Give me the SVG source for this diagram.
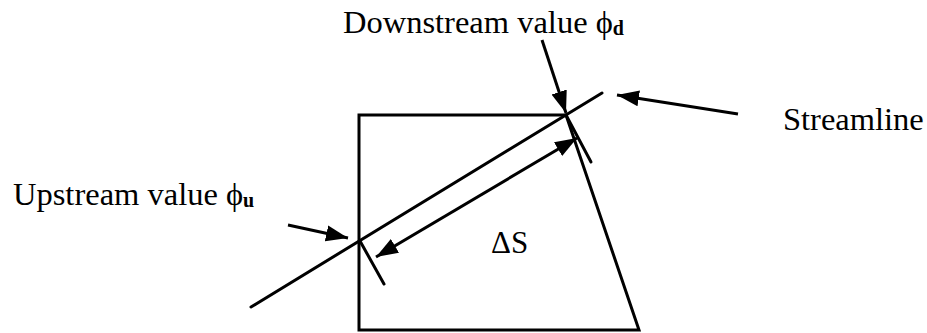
<svg xmlns="http://www.w3.org/2000/svg" width="927" height="333" viewBox="0 0 927 333">
<style>
.ln{stroke:#000;stroke-width:3;fill:none;stroke-linecap:round}
.ar{stroke:#000;stroke-width:3;fill:none;marker-end:url(#ah)}
.t{font-family:"Liberation Serif","Times New Roman",serif;font-size:32.5px;fill:#000}
.sub{font-size:20px;font-weight:bold}
</style>
<defs>
<marker id="ah" markerUnits="userSpaceOnUse" markerWidth="24" markerHeight="18" refX="22" refY="8" orient="auto-start-reverse" viewBox="0 0 24 16">
<path d="M0,0 L22,8 L0,16 Z" fill="#000"/>
</marker>
</defs>
<rect width="927" height="333" fill="#fff"/>
<g id="cell">
<path class="ln" d="M359,330 L359,115 L566,115 L639,330 Z"/>
</g>
<g id="streamline-line">
<line class="ln" x1="251" y1="307" x2="602" y2="93"/>
</g>
<g id="ticks">
<line class="ln" x1="360" y1="241" x2="384" y2="284"/>
<line class="ln" x1="566" y1="115" x2="591" y2="162"/>
</g>
<g id="connectors">
<line class="ar" x1="542" y1="40" x2="566" y2="113"/>
<line class="ar" x1="288" y1="225" x2="348" y2="238"/>
<line class="ar" x1="738" y1="114" x2="617" y2="95"/>
<line class="ar" x1="376" y1="257" x2="577" y2="138" style="marker-start:url(#ah)"/>
</g>
<g id="label-downstream">
<text class="t" x="343" y="33">Downstream value ϕ<tspan class="sub" dy="2">d</tspan></text>
</g>
<g id="label-upstream">
<text class="t" x="13" y="205">Upstream value ϕ<tspan class="sub" dy="2">u</tspan></text>
</g>
<g id="label-streamline">
<text class="t" x="783" y="130">Streamline</text>
</g>
<g id="label-ds">
<text class="t" x="491" y="253" style="font-size:31px">ΔS</text>
</g>
</svg>
